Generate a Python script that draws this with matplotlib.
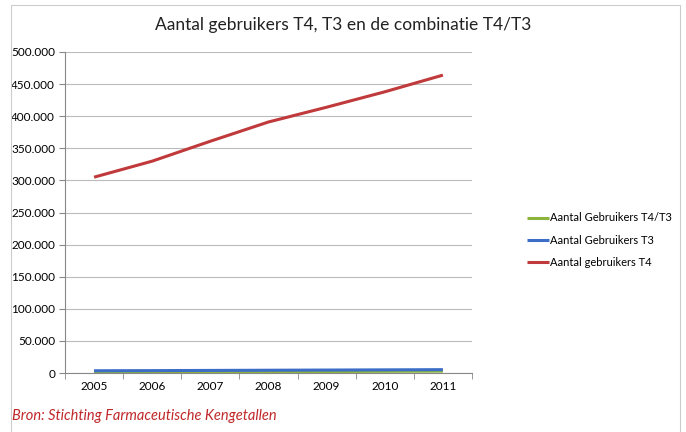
import matplotlib
matplotlib.use("Agg")
import matplotlib.pyplot as plt
from matplotlib.ticker import FuncFormatter
from matplotlib.patches import Rectangle

years = ["2005", "2006", "2007", "2008", "2009", "2010", "2011"]
t4 = [305000, 330000, 361000, 391000, 414000, 438000, 464000]
t3 = [3500, 3700, 4000, 4300, 4600, 4900, 5200]
t4t3 = [1200, 1400, 1700, 2000, 2300, 2600, 2900]

plt.rcParams['font.family'] = ['Lato', 'DejaVu Sans']

fig = plt.figure(figsize=(6.86, 4.32), dpi=100)
ax = fig.add_axes([65/686, 1-373/432, (472-65)/686, (373-52)/432])

x = list(range(len(years)))
ax.plot(x, t4t3, color='#8cb43c', lw=2.2, label='Aantal Gebruikers T4/T3', solid_capstyle='butt')
ax.plot(x, t3, color='#3c6ec8', lw=2.2, label='Aantal Gebruikers T3', solid_capstyle='butt')
ax.plot(x, t4, color='#c0393b', lw=2.2, label='Aantal gebruikers T4', solid_capstyle='butt')

ax.set_xlim(-0.5, len(years)-0.5)
ax.set_ylim(0, 500000)
ax.set_yticks(range(0, 500001, 50000))
ax.yaxis.set_major_formatter(FuncFormatter(lambda v, p: "0" if v == 0 else f"{int(v):,}".replace(",", ".")))
ax.set_xticks(x)
ax.set_xticklabels(years)
ax.set_xticks([i - 0.5 for i in range(len(years)+1)], minor=True)
ax.tick_params(axis='x', which='major', length=0, pad=6, labelsize=8.5)
ax.tick_params(axis='x', which='minor', length=4, color='#888888')
ax.tick_params(axis='y', length=4, color='#888888', labelsize=8.5, pad=3)
ax.grid(axis='y', color='#bbbbbb', lw=0.8)
ax.set_axisbelow(True)
for s in ['top', 'right']:
    ax.spines[s].set_visible(False)
for s in ['left', 'bottom']:
    ax.spines[s].set_color('#888888')
    ax.spines[s].set_linewidth(0.8)

handles, labels = ax.get_legend_handles_labels()
leg = fig.legend(handles, labels, loc='center left', bbox_to_anchor=(523/686, 1-240/432),
                 frameon=False, fontsize=8, handlelength=1.9, handletextpad=0.1,
                 labelspacing=1.0, borderaxespad=0)

fig.text(0.5, 1-25/432, "Aantal gebruikers T4, T3 en de combinatie T4/T3", ha='center', va='center',
         fontsize=12.5, color='#222222')
fig.text(12/686, 1-416/432, "Bron: Stichting Farmaceutische Kengetallen", ha='left', va='center',
         fontsize=10.5, color='#c0282a', style='italic')

fig.patches.append(Rectangle((11/686, -0.01), 669/686, 1-5/432+0.01, transform=fig.transFigure,
                             fill=False, edgecolor='#cccccc', lw=0.8))

fig.savefig("out.png", dpi=100)
